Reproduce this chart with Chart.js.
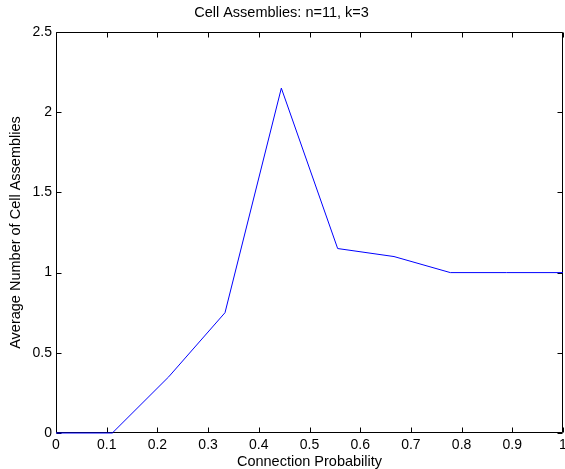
<!DOCTYPE html>
<html>
<head>
<meta charset="utf-8">
<script src="https://cdn.jsdelivr.net/npm/chart.js@4/dist/chart.umd.min.js"></script>
<style>
  html, body { margin: 0; padding: 0; background: #fff; overflow: hidden; }
  #wrap { position: relative; width: 600px; height: 471px; }
</style>
</head>
<body>
<div id="wrap"><canvas id="c"></canvas></div>
<script>
const probabilities = [0, 1/9, 2/9, 3/9, 4/9, 5/9, 6/9, 7/9, 8/9, 1];
const avgAssemblies = [0, 0, 0.35, 0.75, 2.15, 1.15, 1.1, 1.0, 1.0, 1.0];
const xTicks = [0, 0.1, 0.2, 0.3, 0.4, 0.5, 0.6, 0.7, 0.8, 0.9, 1];
const yTicks = [0, 0.5, 1, 1.5, 2, 2.5];
const chartTitle = 'Cell Assemblies: n=11, k=3';
const xTitle = 'Connection Probability';
const yTitle = 'Average Number of Cell Assemblies';

const FONT = 'Liberation Sans, Arial, Helvetica, sans-serif';

const framePlugin = {
  id: 'frame',
  beforeDatasetsDraw(chart) {
    const ctx = chart.ctx;
    const a = chart.chartArea;
    const xs = chart.scales.x, ys = chart.scales.y;
    ctx.save();
    ctx.strokeStyle = '#000';
    ctx.lineWidth = 1;
    ctx.beginPath();
    const L = Math.round(a.left) + 0.5, R = Math.round(a.right) - 0.5;
    const T = Math.round(a.top) + 0.5, B = Math.round(a.bottom) - 0.5;
    ctx.rect(L, T, R - L, B - T);
    const tl = 5;
    xTicks.forEach(v => {
      const px = Math.round(xs.getPixelForValue(v)) + 0.5;
      ctx.moveTo(px, B); ctx.lineTo(px, B - tl);
      ctx.moveTo(px, T); ctx.lineTo(px, T + tl);
    });
    yTicks.forEach(v => {
      const py = Math.round(ys.getPixelForValue(v)) + 0.5;
      ctx.moveTo(L, py); ctx.lineTo(L + tl, py);
      ctx.moveTo(R, py); ctx.lineTo(R - tl, py);
    });
    ctx.stroke();
    ctx.restore();
  }
};

new Chart(document.getElementById('c'), {
  type: 'line',
  data: {
    datasets: [{
      data: probabilities.map((p, i) => ({ x: p, y: avgAssemblies[i] })),
      borderColor: '#0000ff',
      borderWidth: 1,
      pointRadius: 0,
      fill: false,
      tension: 0,
      clip: 2
    }]
  },
  options: {
    responsive: true,
    maintainAspectRatio: false,
    animation: false,
    devicePixelRatio: 1,
    layout: { padding: { left: 0, right: 37, top: 0, bottom: 0 } },
    plugins: {
      legend: { display: false },
      tooltip: { enabled: false },
      title: {
        display: true,
        text: chartTitle,
        color: '#000',
        font: { family: FONT, size: 14.5, weight: 'normal' },
        padding: { top: 4, bottom: 10.6 }
      }
    },
    scales: {
      x: {
        type: 'linear',
        min: 0, max: 1,
        afterBuildTicks: s => { s.ticks = xTicks.map(v => ({ value: v })); },
        afterFit: s => { s.height = 38; },
        grid: { display: false, drawTicks: false },
        border: { display: false },
        ticks: {
          color: '#000',
          font: { family: FONT, size: 14 },
          padding: 4,
          maxRotation: 0,
          autoSkip: false,
          callback: v => String(v)
        },
        title: {
          display: true,
          text: xTitle,
          color: '#000',
          font: { family: FONT, size: 14.5 },
          padding: { top: 0, bottom: 0 }
        }
      },
      y: {
        type: 'linear',
        min: 0, max: 2.5,
        afterBuildTicks: s => { s.ticks = yTicks.map(v => ({ value: v })); },
        afterFit: s => { s.width = 56; },
        grid: { display: false, drawTicks: false },
        border: { display: false },
        ticks: {
          color: '#000',
          font: { family: FONT, size: 14 },
          padding: 4,
          autoSkip: false,
          callback: v => String(v)
        },
        title: {
          display: true,
          text: yTitle,
          color: '#000',
          font: { family: FONT, size: 14.5 },
          padding: { top: 7.3, bottom: 0 }
        }
      }
    }
  },
  plugins: [framePlugin]
});
</script>
</body>
</html>
